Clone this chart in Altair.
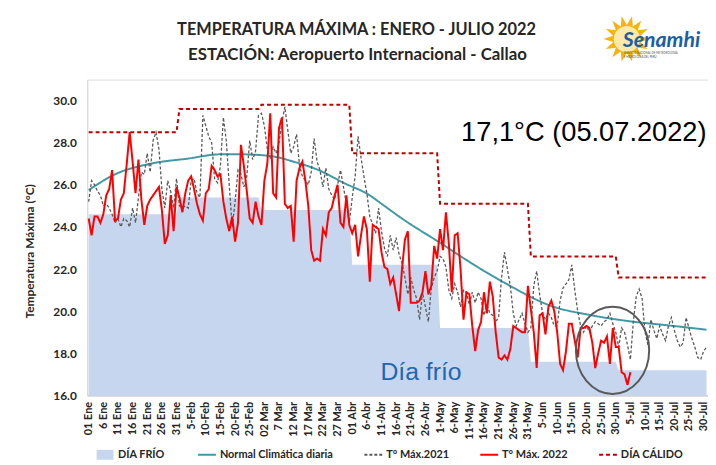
import math
import altair as alt
import pandas as pd

# ---------------- data ----------------
title_lines = ["TEMPERATURA MÁXIMA : ENERO - JULIO 2022",
               "ESTACIÓN: Aeropuerto Internacional - Callao"]

tick_labels = ["01 Ene", "6 Ene", "11 Ene", "16 Ene", "21 Ene", "26 Ene", "31 Ene",
               "5-Feb", "10-Feb", "15-Feb", "20-Feb", "25-Feb",
               "02 Mar", "7 Mar", "12 Mar", "17 Mar", "22 Mar", "27 Mar",
               "01 Abr", "6-Abr", "11-Abr", "16-Abr", "21-Abr", "26-Abr",
               "1-May", "6-May", "11-May", "16-May", "21-May", "26-May", "31-May",
               "5-Jun", "10-Jun", "15-Jun", "20-Jun", "25-Jun", "30-Jun",
               "5-Jul", "10-Jul", "15-Jul", "20-Jul", "25-Jul", "30-Jul"]

month_lengths = [31, 28, 31, 30, 31, 30, 31]
dia_frio_mes = [24.6, 25.4, 24.8, 22.2, 19.2, 17.6, 17.2]
dia_calido_mes = [28.5, 29.6, 29.8, 27.5, 25.1, 22.6, 21.6]

normal_dias = [0, 9, 21, 34, 45, 52, 62, 70, 79, 87, 96, 100, 107, 122, 126,
               142, 159, 170, 186, 197, 211]
normal_vals = [25.75, 26.5, 27.0, 27.25, 27.45, 27.45, 27.37, 27.1, 26.67, 26.1,
               25.5, 25.1, 24.4, 23.07, 22.7, 21.35, 20.2, 19.85, 19.5, 19.34, 19.12]

tmax_2021 = [
    25.2, 26.2, 26.0, 25.7, 25.5, 25.0, 25.1, 24.9, 24.6, 24.2,
    24.4, 24.0, 24.4, 24.3, 24.0, 24.9, 24.2, 25.4, 26.6, 26.5,
    27.5, 26.6, 28.1, 28.5, 27.7, 25.8, 24.9, 26.2, 25.7, 24.9,
    26.3, 25.0, 24.9, 25.0, 24.9, 26.2, 26.3, 25.6, 25.4, 29.3,
    28.8, 28.3, 28.0, 26.3, 26.1, 26.9, 29.2, 28.1, 26.0, 24.0,
    25.2, 26.7, 26.5, 25.9, 26.4, 28.1, 27.2, 27.6, 29.3, 29.4,
    28.8, 27.7, 27.3, 27.8, 27.5, 28.0, 29.0, 29.7, 28.6, 27.5,
    27.8, 28.4, 26.9, 26.4, 26.2, 26.0, 26.6, 28.2, 27.1, 26.7,
    25.9, 26.8, 25.8, 25.5, 25.3, 26.0, 26.7, 25.9, 25.1, 24.2,
    25.4, 26.4, 28.3, 27.3, 26.4, 25.6, 24.5, 24.1, 23.7, 24.9,
    23.8, 23.0, 22.6, 23.6, 22.9, 23.5, 22.7, 22.3, 21.6, 20.8,
    21.6, 21.0, 20.6, 19.6, 20.9, 20.2, 19.5, 21.1, 21.6, 21.9,
    22.6, 22.5, 22.1, 21.0, 20.6, 21.3, 20.9, 20.2, 21.0, 20.9,
    20.3, 20.9, 20.4, 20.9, 20.6, 19.8, 20.3, 19.9, 19.8, 19.5,
    19.7, 21.6, 22.8, 22.0, 21.2, 19.9, 19.3, 19.6, 19.9, 19.4,
    19.0, 19.2, 21.2, 21.9, 20.8, 19.9, 19.6, 19.9, 19.7, 19.3,
    19.3, 20.5, 21.1, 21.3, 21.5, 22.2, 21.0, 20.0, 19.3, 19.0,
    19.3, 19.0, 19.3, 19.5, 19.4, 19.3, 19.5, 19.6, 19.9, 19.4,
    19.0, 18.3, 19.2, 19.0, 18.4, 17.7, 19.5, 20.7, 21.05, 20.6,
    19.0, 18.4, 19.6, 19.1, 18.7, 19.3, 18.9, 18.6, 19.3, 19.7,
    19.1, 18.6, 18.3, 18.5, 19.7, 19.2, 18.7, 18.3, 17.8, 17.7,
    18.1, 18.3]

tmax_2022 = [
    24.4, 23.6, 24.5, 24.5, 24.2, 24.6, 25.5, 25.8, 26.7, 24.3,
    24.4, 25.3, 25.6, 27.0, 28.5, 27.1, 25.6, 27.2, 25.3, 24.1,
    25.0, 25.3, 25.5, 25.7, 25.9, 24.8, 23.2, 23.6, 25.5, 23.8,
    25.9, 25.4, 24.7, 25.6, 26.2, 26.4, 25.8, 25.1, 24.6, 24.3,
    25.6, 25.8, 26.9, 26.7, 26.4, 26.5, 25.2, 24.4, 23.8, 24.5,
    23.3, 24.2, 27.9, 26.9, 25.7, 24.4, 24.2, 25.2, 24.5, 24.1,
    26.2, 27.0, 29.4, 25.6, 25.4, 28.7, 29.2, 25.1, 24.9, 25.0,
    23.3, 26.2, 26.8, 27.1, 26.2, 25.0, 22.9, 22.4, 22.5, 22.4,
    23.9, 23.6, 24.7, 24.9, 25.5, 26.0, 24.2, 24.0, 25.5, 24.1,
    23.7, 24.1, 22.6, 23.6, 24.5, 23.9, 21.4, 24.1, 24.0, 23.9,
    22.8, 22.1, 22.0, 21.3, 21.6, 20.8, 20.0, 22.0, 23.4, 23.8,
    20.4, 20.4, 20.4, 20.5, 20.9, 21.9, 20.8, 21.2, 23.1, 22.5,
    23.9, 22.9, 24.7, 23.2, 20.9, 23.6, 23.7, 22.0, 19.6, 20.9,
    20.8, 19.3, 18.1, 19.1, 19.5, 20.9, 19.9, 21.4, 20.7, 19.0,
    17.8, 17.7, 17.9, 17.7, 18.2, 19.3, 19.2, 19.1, 19.0, 19.0,
    21.2, 20.1, 19.0, 17.3, 19.8, 19.9, 18.9, 20.2, 20.5, 20.0,
    19.0, 17.5, 17.2, 18.1, 19.4, 19.4, 18.6, 17.8, 19.2, 19.2,
    19.3, 19.2, 18.5, 17.3, 18.0, 18.6, 18.5, 18.8, 17.5, 19.2,
    18.3, 18.3, 17.1, 17.0, 16.5, 17.1]

# annotations (day index, temperature)
anot_max_texto = "17,1°C (05.07.2022)"
anot_max_pos = (169.1, 28.09)
anot_frio_texto = "Día frío"
anot_frio_pos = (113.5, 16.73)
elipse_pos = (178.9, 18.14)

S_FRIO = "DÍA FRÍO"
S_NORM = "Normal Climática diaria"
S_2021 = "T° Máx.2021"
S_2022 = "T° Máx. 2022"
S_CAL = "DÍA CÁLIDO"
frio_color = "#c6d6ef"
line_series = [S_NORM, S_2021, S_2022, S_CAL]
line_colors = ["#3f9aa6", "#595959", "#ff0000", "#c00000"]
line_dash = [[1, 0], [3, 2], [1, 0], [4, 3]]

# ---------------- frames ----------------
n_days = sum(month_lengths)
frio, calido = [], []
for m, L in enumerate(month_lengths):
    frio += [dia_frio_mes[m]] * L
    calido += [dia_calido_mes[m]] * L

df_frio = pd.DataFrame({"d": range(n_days), "v": frio, "s": S_FRIO})
df_cal = pd.DataFrame({"d": range(n_days), "v": calido, "s": S_CAL})
df_norm = pd.DataFrame({"d": normal_dias, "v": normal_vals, "s": S_NORM})
df_21 = pd.DataFrame({"d": range(len(tmax_2021)), "v": tmax_2021, "s": S_2021})
df_22 = pd.DataFrame({"d": range(len(tmax_2022)), "v": tmax_2022, "s": S_2022})

label_expr = "[" + ",".join("'%s'" % t for t in tick_labels) + "][round(datum.value/5)]"

FONT = "Lato"
TXT = "#262626"

xscale = alt.Scale(domain=[-0.5, n_days - 0.5], nice=False, zero=False)
yscale = alt.Scale(domain=[16, 31], nice=False, zero=False)

X = alt.X("d:Q", scale=xscale, axis=alt.Axis(
    values=list(range(0, 211, 5)), labelExpr=label_expr, labelAngle=270,
    labelFont=FONT, labelFontSize=11, labelFontWeight="bold", labelColor=TXT,
    ticks=False, grid=False, domainColor="#bfbfbf", labelPadding=6,
    labelFlush=False, labelOverlap=False, title=None))
Y = alt.Y("v:Q", scale=yscale, axis=alt.Axis(
    values=list(range(16, 31, 2)), format=".1f", grid=False, ticks=False,
    domainColor="#d9d9d9", labelFont=FONT, labelFontSize=12, labelFontWeight="bold",
    labelColor=TXT, labelPadding=11, title="Temperatura Máxima (°C)",
    titleFont=FONT, titleFontSize=12, titleFontWeight="bold", titleColor=TXT,
    titleAngle=270, titleBaseline="middle", titleX=-58, titleY=173))

leg_common = dict(title=None, orient="none", direction="horizontal",
                  labelFont=FONT, labelFontSize=11, labelFontWeight="bold",
                  labelColor=TXT, labelOffset=3, padding=0, labelLimit=300)

rect_path = "M-0.85,-0.5H0.85V0.5H-0.85Z"
legend_fill = alt.Legend(legendX=8, legendY=369, symbolType=rect_path, symbolSize=400,
                         symbolStrokeWidth=0, symbolOpacity=1, **leg_common)
legend_line = alt.Legend(legendX=111, legendY=369, columns=4, symbolType="stroke",
                         symbolSize=324, symbolStrokeWidth=2, columnPadding=27,
                         **leg_common)

F = alt.Fill("s:N", scale=alt.Scale(domain=[S_FRIO], range=[frio_color]), legend=legend_fill)
S = alt.Stroke("s:N", scale=alt.Scale(domain=line_series, range=line_colors), legend=legend_line)
D = alt.StrokeDash("s:N", scale=alt.Scale(domain=line_series, range=line_dash), legend=legend_line)

area = alt.Chart(df_frio).mark_area(opacity=1).encode(x=X, y=Y, y2=alt.datum(16), fill=F)
norm = alt.Chart(df_norm).mark_line(strokeWidth=2, interpolate="monotone").encode(
    x=X, y=Y, stroke=S, strokeDash=D)
l21 = alt.Chart(df_21).mark_line(strokeWidth=1.3).encode(x=X, y=Y, stroke=S, strokeDash=D)
l22 = alt.Chart(df_22).mark_line(strokeWidth=2).encode(x=X, y=Y, stroke=S, strokeDash=D)
cal = alt.Chart(df_cal).mark_line(strokeWidth=2).encode(x=X, y=Y, stroke=S, strokeDash=D)

df_el = pd.DataFrame({"d": [elipse_pos[0]], "v": [elipse_pos[1]]})
ellipse = alt.Chart(df_el).mark_point(
    shape="M-1,0A1,1.19,0,1,1,1,0A1,1.19,0,1,1,-1,0Z", size=5476, filled=False,
    stroke="#595959", strokeWidth=2, opacity=1).encode(x=X, y=Y)

df_t1 = pd.DataFrame({"d": [anot_max_pos[0]], "v": [anot_max_pos[1]], "t": [anot_max_texto]})
txt_max = alt.Chart(df_t1).mark_text(font="Liberation Sans", fontSize=27.5, color="#000000",
                                     align="center", baseline="alphabetic").encode(x=X, y=Y, text="t:N")
df_t2 = pd.DataFrame({"d": [anot_frio_pos[0]], "v": [anot_frio_pos[1]], "t": [anot_frio_texto]})
txt_frio = alt.Chart(df_t2).mark_text(font="Liberation Sans", fontSize=25, color="#2166b1",
                                      align="center", baseline="alphabetic").encode(x=X, y=Y, text="t:N")

# title (two centred lines above the plot)
one = pd.DataFrame({"k": [0]})
title1 = alt.Chart(one).mark_text(text=title_lines[0], font=FONT, fontSize=16.5, fontWeight="bold",
                                  color=TXT, align="center", baseline="alphabetic").encode(
    x=alt.value(272), y=alt.value(-45))
title2 = alt.Chart(one).mark_text(text=title_lines[1], font=FONT, fontSize=17, fontWeight="bold",
                                  color=TXT, align="center", baseline="alphabetic").encode(
    x=alt.value(273), y=alt.value(-20))

# logo (Senamhi)
n_r = 14
pts = []
for i in range(2 * n_r):
    r = 1.0 if i % 2 == 0 else 0.6
    a = math.pi * i / n_r
    pts.append("%.3f,%.3f" % (r * math.cos(a), r * math.sin(a)))
sun_path = "M" + "L".join(pts) + "Z"
sun = alt.Chart(one).mark_point(shape=sun_path, size=2200, filled=True, fill="#f6b20f",
                                opacity=1, strokeWidth=0).encode(x=alt.value(545), y=alt.value(-41))
sun_c = alt.Chart(one).mark_point(shape="circle", size=700, filled=True, fill="#fde9a8",
                                  opacity=1, strokeWidth=0).encode(x=alt.value(545), y=alt.value(-41))
logo_t = alt.Chart(one).mark_text(text="Senamhi", font=FONT, fontSize=21.5, fontWeight="bold",
                                  fontStyle="italic", color="#1b5ea8", align="center",
                                  baseline="alphabetic").encode(x=alt.value(580), y=alt.value(-33))
logo_s1 = alt.Chart(one).mark_text(text="SERVICIO NACIONAL DE METEOROLOGÍA", font=FONT, fontSize=2.8,
                                   color="#555555", align="left", baseline="alphabetic").encode(
    x=alt.value(542), y=alt.value(-25.5))
logo_s2 = alt.Chart(one).mark_text(text="E HIDROLOGÍA DEL PERÚ", font=FONT, fontSize=2.8,
                                   color="#555555", align="left", baseline="alphabetic").encode(
    x=alt.value(542), y=alt.value(-21.5))

chart = alt.layer(area, norm, l21, l22, cal, ellipse, txt_max, txt_frio,
                  title1, title2, sun, sun_c, logo_t, logo_s1, logo_s2).properties(
    width=627, height=319,
    padding={"left": 80, "top": 70, "right": 0, "bottom": 68},
    autosize=alt.AutoSizeParams(type="none"),
).configure_view(stroke=None).configure(background="white")

chart.save("out.html", embed_options={"renderer": "svg", "actions": False})
